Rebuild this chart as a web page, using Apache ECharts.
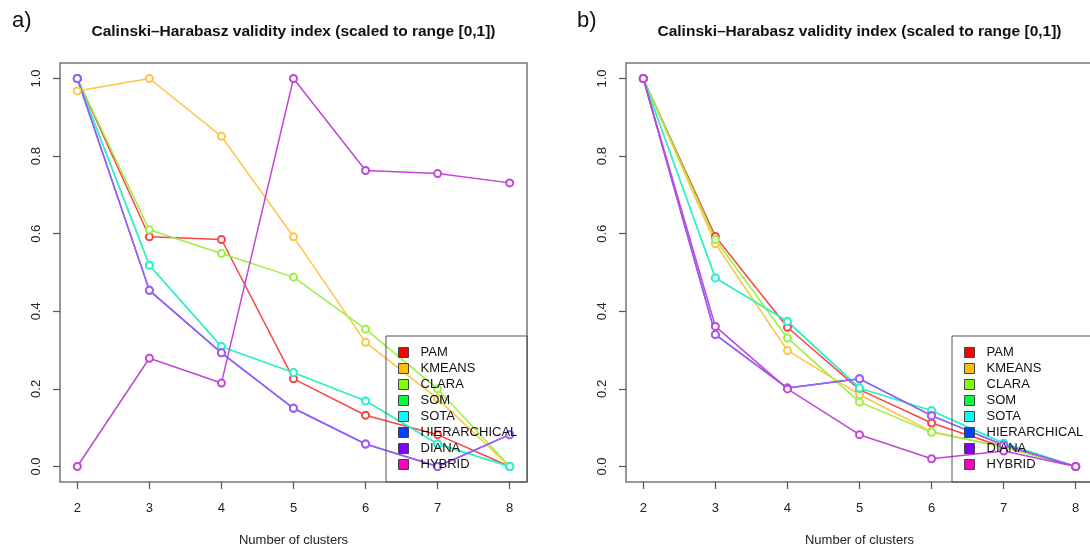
<!DOCTYPE html>
<html><head><meta charset="utf-8">
<script src="https://cdn.jsdelivr.net/npm/echarts@6/dist/echarts.min.js"></script>
<style>html,body{margin:0;padding:0;background:#fff}#c{width:1090px;height:546px}</style>
</head><body><div id="c"></div>
<script>
// ---- data ----
const clusters = [2, 3, 4, 5, 6, 7, 8];
const methods = ['PAM', 'KMEANS', 'CLARA', 'SOM', 'SOTA', 'HIERARCHICAL', 'DIANA', 'HYBRID'];
const xTicks = [2, 3, 4, 5, 6, 7, 8];
const yTicks = [0, 0.2, 0.4, 0.6, 0.8, 1.0];
const titleText = 'Calinski\u2013Harabasz validity index (scaled to range [0,1])';
const xName = 'Number of clusters';
const panelLabels = ['a)', 'b)'];

// panel a)
const a_PAM          = [1.0, 0.592, 0.585, 0.226, 0.132, 0.082, 0.0];
const a_KMEANS       = [0.968, 1.0, 0.851, 0.592, 0.320, 0.175, 0.0];
const a_CLARA        = [1.0, 0.610, 0.549, 0.488, 0.354, 0.200, 0.0];
const a_SOM          = [1.0, 0.519, 0.309, 0.242, 0.169, 0.058, 0.0];
const a_SOTA         = [1.0, 0.519, 0.309, 0.242, 0.169, 0.058, 0.0];
const a_HIERARCHICAL = [1.0, 0.454, 0.293, 0.150, 0.058, 0.0, 0.082];
const a_DIANA        = [1.0, 0.454, 0.293, 0.150, 0.058, 0.0, 0.082];
const a_HYBRID       = [0.0, 0.279, 0.215, 1.0, 0.763, 0.755, 0.731];

// panel b)
const b_PAM          = [1.0, 0.593, 0.359, 0.198, 0.112, 0.050, 0.0];
const b_KMEANS       = [1.0, 0.574, 0.299, 0.185, 0.090, 0.050, 0.0];
const b_CLARA        = [1.0, 0.585, 0.331, 0.166, 0.088, 0.050, 0.0];
const b_SOM          = [1.0, 0.486, 0.374, 0.202, 0.144, 0.060, 0.0];
const b_SOTA         = [1.0, 0.486, 0.374, 0.202, 0.144, 0.060, 0.0];
const b_HIERARCHICAL = [1.0, 0.340, 0.202, 0.226, 0.131, 0.055, 0.0];
const b_DIANA        = [1.0, 0.340, 0.202, 0.226, 0.131, 0.055, 0.0];
const b_HYBRID       = [1.0, 0.361, 0.200, 0.082, 0.020, 0.040, 0.0];

// ---- styles ----
const legendColors = ['#FF0000', '#FFBF00', '#80FF00', '#00FF40', '#00FFFF', '#0040FF', '#8000FF', '#FF00BF'];
const lineColors   = ['#f84545', '#ffc444', '#9cf040', '#38f08a', '#33efd2', '#4a62f0', '#a45cf8', '#c244d8'];
const FONT = 'Liberation Sans, Arial, sans-serif';

const panels = [
  [a_PAM, a_KMEANS, a_CLARA, a_SOM, a_SOTA, a_HIERARCHICAL, a_DIANA, a_HYBRID],
  [b_PAM, b_KMEANS, b_CLARA, b_SOM, b_SOTA, b_HIERARCHICAL, b_DIANA, b_HYBRID]
];
const gridLeft = [60, 626];
const legendLeft = [386, 952];
const gridW = 467, gridTop = 63, gridH = 419;

const series = [];
panels.forEach((p, pi) => {
  p.forEach((vals, si) => {
    series.push({
      type: 'line', name: methods[si], xAxisIndex: pi, yAxisIndex: pi,
      data: clusters.map((c, k) => [c, vals[k]]),
      symbol: 'emptyCircle', symbolSize: 7,
      lineStyle: { color: lineColors[si], width: 1.5 },
      itemStyle: { color: lineColors[si], borderColor: lineColors[si], borderWidth: 1.6 },
      emphasis: { disabled: true }, silent: true
    });
  });
});

const chart = echarts.init(document.getElementById('c'), null, { renderer: 'canvas' });
chart.setOption({
  animation: false,
  backgroundColor: '#fff',
  title: [0, 1].flatMap(pi => [
    { text: titleText, left: gridLeft[pi] + gridW / 2, textAlign: 'center', top: 24, padding: 0,
      textStyle: { fontFamily: FONT, fontSize: 15.5, fontWeight: 'bold', color: '#111' } },
    { text: panelLabels[pi], left: pi === 0 ? 12 : 577, top: 10, padding: 0,
      textStyle: { fontFamily: FONT, fontSize: 22, fontWeight: 'normal', color: '#111' } }
  ]),
  grid: [0, 1].map(pi => ({ left: gridLeft[pi], top: gridTop, width: gridW, height: gridH,
    outerBoundsMode: 'none', containLabel: false,
    show: true, borderColor: '#777', borderWidth: 1.5, backgroundColor: 'transparent' })),
  xAxis: [0, 1].map(pi => ({
    type: 'value', gridIndex: pi, min: 1.76, max: 8.24, position: 'bottom',
    axisLine: { show: false, onZero: false },
    axisTick: { show: true, inside: false, customValues: xTicks, length: 7, lineStyle: { color: '#555', width: 1.2 } },
    axisLabel: { customValues: xTicks, margin: 20, fontFamily: FONT, fontSize: 13, color: '#222' },
    splitLine: { show: false },
    name: xName, nameLocation: 'middle', nameGap: 52,
    nameTextStyle: { fontFamily: FONT, fontSize: 13, color: '#222' }
  })),
  yAxis: [0, 1].map(pi => ({
    type: 'value', gridIndex: pi, min: -0.04, max: 1.04, position: 'left',
    axisLine: { show: false, onZero: false },
    axisTick: { show: true, inside: false, customValues: yTicks, length: 7, lineStyle: { color: '#555', width: 1.2 } },
    axisLabel: { customValues: yTicks, rotate: 90, margin: 17, fontFamily: FONT, fontSize: 13, color: '#222',
      formatter: v => v.toFixed(1) },
    splitLine: { show: false }
  })),
  legend: [0, 1].map(pi => ({
    orient: 'vertical', left: legendLeft[pi], top: 336,
    padding: [10, 10, 11, 12], itemWidth: 10, itemHeight: 10, itemGap: 3,
    borderColor: '#555', borderWidth: 1, backgroundColor: 'transparent',
    icon: 'rect', selectedMode: false,
    itemStyle: { borderColor: '#444', borderWidth: 1 },
    textStyle: { fontFamily: FONT, fontSize: 13, color: '#111', padding: [0, 0, 0, 7] },
    data: methods.map((m, i) => ({ name: m, itemStyle: { color: legendColors[i], borderColor: '#444', borderWidth: 1 } }))
  })),
  series: series
});
</script>
</body></html>
